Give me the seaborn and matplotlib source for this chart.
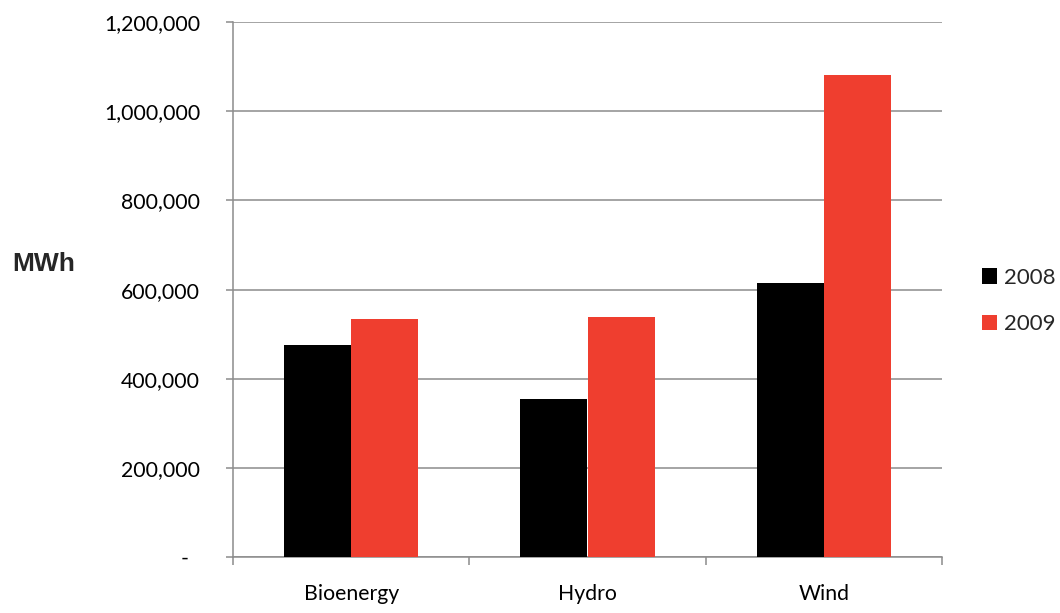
import matplotlib
matplotlib.use("Agg")
import matplotlib.pyplot as plt
from matplotlib.ticker import FuncFormatter, FixedLocator
from matplotlib.patches import Patch
import seaborn as sns
import pandas as pd

# Renewable generation by source (MWh)
categories = ["Bioenergy", "Hydro", "Wind"]
years = ["2008", "2009"]
mwh_2008 = [477000, 355000, 614000]
mwh_2009 = [534000, 538000, 1081000]
y_ticks = [0, 200000, 400000, 600000, 800000, 1000000, 1200000]
colors = ["#000000", "#EF3E2F"]

df = pd.DataFrame({
    "source": categories * 2,
    "year": [years[0]] * 3 + [years[1]] * 3,
    "mwh": mwh_2008 + mwh_2009,
})

sns.set_style("white")
plt.rcParams["font.family"] = ["Lato", "DejaVu Sans"]

fig = plt.figure(figsize=(10.6, 6.13), dpi=100)
ax = fig.add_axes([233 / 1060, 1 - 557.3 / 613, 709 / 1060, 535.3 / 613])

sns.barplot(data=df, x="source", y="mwh", hue="year", palette=colors,
            saturation=1, width=0.567, edgecolor="none", linewidth=0,
            ax=ax, legend=False, zorder=3)

grid_c = "#8c8c8c"
ax.set_ylim(0, 1200000)
ax.set_xlim(-0.5, 2.5)
ax.yaxis.set_major_locator(FixedLocator(y_ticks))
ax.yaxis.set_major_formatter(
    FuncFormatter(lambda v, p: "-  " if v == 0 else f"{int(v):,}"))
ax.grid(axis="y", color=grid_c, linewidth=1.1, zorder=0)
ax.set_axisbelow(True)

for s in ["top", "right"]:
    ax.spines[s].set_visible(False)
for s in ["left", "bottom"]:
    ax.spines[s].set_color(grid_c)
    ax.spines[s].set_linewidth(1.1)

ax.tick_params(axis="y", which="major", length=5.2, width=1.1, color=grid_c,
               pad=18.5, labelsize=15.3, labelcolor="#000000", left=True)
ax.tick_params(axis="x", which="major", length=0, pad=19,
               labelsize=15.3, labelcolor="#000000")
ax.xaxis.set_minor_locator(FixedLocator([-0.5, 0.5, 1.5, 2.5]))
ax.tick_params(axis="x", which="minor", length=6, width=1.1, color=grid_c,
               bottom=True)
ax.set_xlabel("")
ax.set_ylabel("")

fig.text(12 / 1060, 1 - 264 / 613, "MWh", family="Liberation Sans",
         fontweight="bold", fontsize=19, ha="left", va="center")

handles = [Patch(facecolor=c, edgecolor="none") for c in colors]
fig.legend(handles, years, loc="center left",
           bbox_to_anchor=(982 / 1060, 1 - 301 / 613), frameon=False,
           fontsize=16, handlelength=0.68, handleheight=0.68,
           handletextpad=0.3, labelspacing=1.2, borderpad=0,
           borderaxespad=0)

fig.savefig("out.png", dpi=100)
